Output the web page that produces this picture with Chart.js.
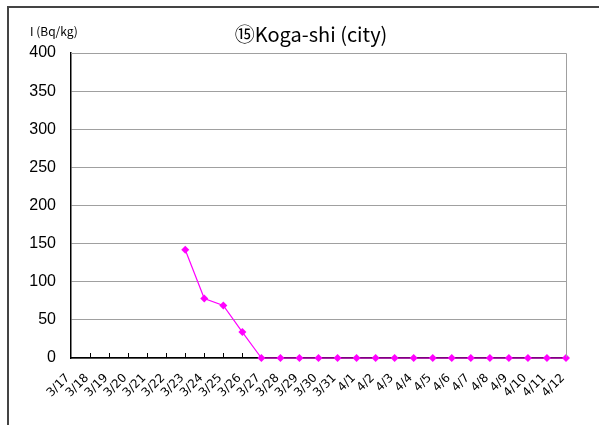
<!DOCTYPE html>
<html>
<head>
<meta charset="utf-8">
<script src="https://cdn.jsdelivr.net/npm/chart.js@4/dist/chart.umd.min.js"></script>
<style>
  html, body { margin: 0; padding: 0; background: #fff; }
  #wrap { position: relative; width: 599px; height: 425px; }
</style>
</head>
<body>
<div id="wrap"><canvas id="kogaChart" width="599" height="425"></canvas></div>
<script>
// dates on the x axis
const days = ['3/17', '3/18', '3/19', '3/20', '3/21', '3/22', '3/23', '3/24', '3/25',
  '3/26', '3/27', '3/28', '3/29', '3/30', '3/31', '4/1', '4/2', '4/3', '4/4',
  '4/5', '4/6', '4/7', '4/8', '4/9', '4/10', '4/11', '4/12'];

// iodine readings, Bq/kg (no reading before 3/23)
const iodine = [null, null, null, null, null, null, 142, 78, 69,
  34, 0, 0, 0, 0, 0, 0, 0, 0, 0,
  0, 0, 0, 0, 0, 0, 0, 0];

const yTicks = [0, 50, 100, 150, 200, 250, 300, 350, 400];

const chartTitle = '⑮Koga-shi (city)';
const unitLabel = 'I (Bq/kg)';

// frame, title, unit text and the little inward ticks on the date axis
const decor = {
  id: 'decor',
  beforeDraw(chart) {
    const ctx = chart.ctx;
    ctx.save();
    ctx.fillStyle = '#fff';
    ctx.fillRect(0, 0, chart.width, chart.height);
    ctx.strokeStyle = '#444';
    ctx.lineWidth = 2;
    ctx.beginPath();
    ctx.moveTo(8, 425);
    ctx.lineTo(8, 7);
    ctx.lineTo(599, 7);
    ctx.stroke();

    ctx.fillStyle = '#000';
    ctx.textBaseline = 'middle';
    ctx.font = '20px "Noto Sans CJK JP", sans-serif';
    ctx.textAlign = 'center';
    ctx.fillText(chartTitle, 311, 34);

    ctx.font = '12px "Noto Sans CJK JP", sans-serif';
    ctx.textAlign = 'left';
    ctx.fillText(unitLabel, 30, 31);
    ctx.restore();
  },
  afterDatasetsDraw(chart) {
    const ctx = chart.ctx;
    const x = chart.scales.x;
    const bottom = chart.chartArea.bottom;
    ctx.save();
    ctx.strokeStyle = '#000';
    ctx.lineWidth = 1;
    ctx.beginPath();
    for (let i = 1; i < 10; i++) {
      const px = Math.round(x.getPixelForTick(i)) + 0.5;
      ctx.moveTo(px, bottom);
      ctx.lineTo(px, bottom - 5);
    }
    ctx.stroke();
    ctx.restore();
  }
};

new Chart(document.getElementById('kogaChart'), {
  type: 'line',
  data: {
    labels: days,
    datasets: [{
      label: 'I',
      data: iodine,
      borderColor: '#ff00ff',
      backgroundColor: '#ff00ff',
      borderWidth: 1.2,
      pointStyle: 'rectRot',
      pointRadius: 4,
      pointBorderWidth: 0,
      spanGaps: false,
      clip: false,
      tension: 0
    }]
  },
  options: {
    responsive: false,
    animation: false,
    devicePixelRatio: 1,
    layout: {
      padding: { top: 53, right: 33, left: 0, bottom: 0 }
    },
    plugins: {
      legend: { display: false },
      title: { display: false },
      tooltip: { enabled: false }
    },
    scales: {
      x: {
        offset: false,
        afterFit(scale) { scale.height = 67; },
        grid: {
          display: true,
          drawOnChartArea: false,
          drawTicks: false
        },
        border: { color: '#000', width: 1.5 },
        ticks: {
          autoSkip: false,
          maxRotation: 45,
          minRotation: 45,
          padding: 13,
          labelOffset: -3,
          color: '#000',
          font: { family: '"DejaVu Sans", sans-serif', size: 12 }
        }
      },
      y: {
        min: 0,
        max: 400,
        afterFit(scale) { scale.width = 71; },
        afterBuildTicks(scale) { scale.ticks = yTicks.map(v => ({ value: v })); },
        grid: {
          color: '#a0a0a0',
          lineWidth: 1,
          drawTicks: false
        },
        border: { color: '#000', width: 1.5 },
        ticks: {
          padding: 15,
          color: '#000',
          font: { family: '"Liberation Sans", Arial, sans-serif', size: 16 }
        }
      }
    }
  },
  plugins: [decor, {
    id: 'plotEdge',
    afterDraw(chart) {
      // grey top and right edge of the plot box
      const a = chart.chartArea;
      const ctx = chart.ctx;
      ctx.save();
      ctx.strokeStyle = '#a0a0a0';
      ctx.lineWidth = 1;
      ctx.beginPath();
      ctx.moveTo(a.left, Math.round(a.top) + 0.5);
      ctx.lineTo(Math.round(a.right) + 0.5, Math.round(a.top) + 0.5);
      ctx.lineTo(Math.round(a.right) + 0.5, a.bottom - 1);
      ctx.stroke();
      ctx.restore();
    }
  }]
});
</script>
</body>
</html>
